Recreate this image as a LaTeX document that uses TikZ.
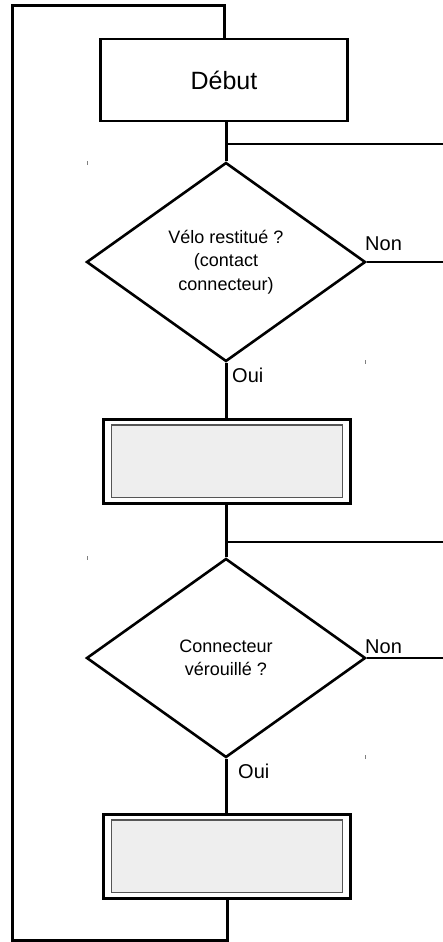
\documentclass[tikz,border=0pt]{standalone}
\usepackage{fontspec}
\setmainfont{Liberation Sans}
\usetikzlibrary{shapes.geometric}
\definecolor{boxfill}{HTML}{EEEEEE}
\definecolor{boxline}{HTML}{555555}
\tikzset{
  wire/.style={line width=3pt},
  branch/.style={line width=2.3pt},
  startbox/.style={draw, line width=2.5pt, minimum width=247pt, minimum height=82pt, inner sep=0pt,
    font=\fontsize{25}{30}\selectfont},
  decision/.style={draw, diamond, line width=2.6pt, minimum width=279pt, minimum height=199pt,
    inner sep=0pt, align=center, font=\fontsize{18}{23.5}\selectfont},
  procbox/.style={draw, line width=2.8pt, minimum width=247pt, minimum height=84pt, inner sep=0pt,
    path picture={\draw[fill=boxfill, draw=boxline, line width=1.1pt]
      ([shift={(8pt,-5.5pt)}]path picture bounding box.north west) rectangle
      ([shift={(-8pt,6pt)}]path picture bounding box.south east);}},
  lbl/.style={inner sep=0pt, anchor=base west, font=\fontsize{20}{24}\selectfont},
  tick/.style={draw=gray, line width=0.8pt}
}
\begin{document}
\begin{tikzpicture}[x=1pt,y=-1pt]
\useasboundingbox (0,0) rectangle (443,942);
% nodes
\node[startbox] (debut) at (224,80) {Début};
\node[decision] (d1) at (226,262) {Vélo restitué ?\\(contact\\connecteur)};
\node[procbox] (b1) at (227,461.5) {};
\node[decision] (d2) at (226,658) {Connecteur\\vérouillé ?};
\node[procbox] (b3) at (227,856.5) {};
% coordinates
\coordinate (j1) at (226,144);
\coordinate (e1) at (443,144);
\coordinate (n1) at (443,262);
\coordinate (j2) at (226,542);
\coordinate (e2) at (443,542);
\coordinate (n2) at (443,658);
\coordinate (lb) at (12,940);
\coordinate (lt) at (12,6);
% connectors
\draw[wire] (debut.south -| d1.north) -- (d1.north);
\draw[branch] (j1) -- (e1);
\draw[wire] (d1.south) -- (d1.south |- b1.north);
\draw[branch] (d1.east) -- (n1);
\draw[wire] (d2.north |- b1.south) -- (d2.north);
\draw[branch] (j2) -- (e2);
\draw[wire] (d2.south) -- (d2.south |- b3.north);
\draw[branch] (d2.east) -- (n2);
\draw[wire, line join=miter] (b3.south) |- (lb) -- (lt) -| (debut.north);
% labels
\node[lbl] (non1) at (365,250) {Non};
\node[lbl] (oui1) at (232,382) {Oui};
\node[lbl] (non2) at (365,653) {Non};
\node[lbl] (oui2) at (238,778) {Oui};
% small marks
\draw[tick] (87,161) -- (87,165);
\draw[tick] (365,360) -- (365,364);
\draw[tick] (87,556) -- (87,560);
\draw[tick] (365,755) -- (365,759);
\end{tikzpicture}
\end{document}
